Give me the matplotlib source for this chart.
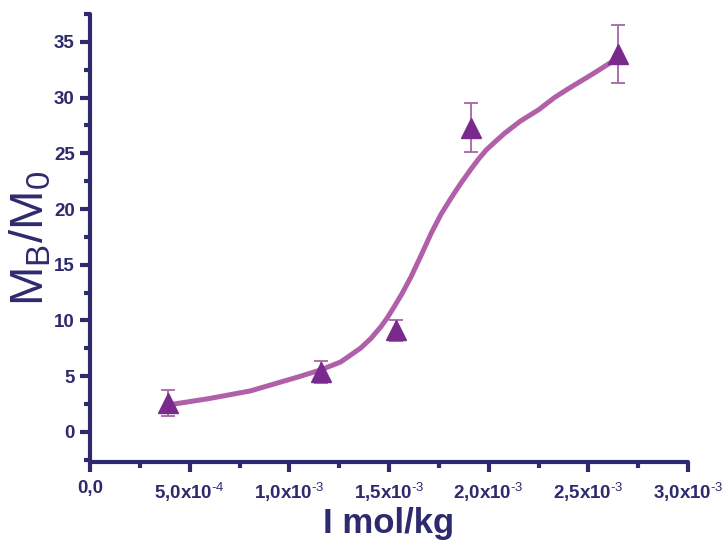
import matplotlib
matplotlib.use('Agg')
import matplotlib.pyplot as plt
from matplotlib.ticker import MultipleLocator

plt.rcParams['font.family'] = ['Liberation Sans', 'DejaVu Sans']
plt.rcParams['mathtext.fontset'] = 'custom'
plt.rcParams['mathtext.rm'] = 'Liberation Sans'
plt.rcParams['mathtext.bf'] = 'Liberation Sans:bold'

# measured points
conc = [3.9e-4, 1.16e-3, 1.535e-3, 1.91e-3, 2.65e-3]
ratio = [2.6, 5.4, 9.1, 27.3, 33.9]
err = [1.2, 1.0, 0.9, 2.2, 2.6]

# fitted curve
fit_x = [0.393e-3, 0.60e-3, 0.805e-3, 1.057e-3, 1.158e-3, 1.258e-3, 1.30e-3, 1.359e-3,
         1.41e-3, 1.459e-3, 1.49e-3, 1.525e-3, 1.565e-3, 1.610e-3, 1.66e-3, 1.711e-3,
         1.76e-3, 1.812e-3, 1.86e-3, 1.912e-3, 1.95e-3, 1.988e-3, 2.03e-3, 2.08e-3,
         2.16e-3, 2.25e-3, 2.33e-3, 2.40e-3, 2.52e-3, 2.617e-3, 2.652e-3]
fit_y = [2.42, 3.0, 3.68, 5.0, 5.57, 6.28, 6.8, 7.54,
         8.4, 9.43, 10.2, 11.2, 12.4, 13.9, 15.8, 17.8,
         19.5, 21.0, 22.3, 23.6, 24.5, 25.3, 26.0, 26.8,
         27.9, 28.9, 30.0, 30.8, 32.1, 33.2, 33.6]

xticks = [0, 5e-4, 1e-3, 1.5e-3, 2e-3, 2.5e-3, 3e-3]
xlabels = ['0,0', r'5,0x10$^{\text{-4}}$', r'1,0x10$^{\text{-3}}$', r'1,5x10$^{\text{-3}}$',
           r'2,0x10$^{\text{-3}}$', r'2,5x10$^{\text{-3}}$', r'3,0x10$^{\text{-3}}$']

navy = '#2d2a6e'
dot = '#7a2a8c'
line = '#b05fa8'

fig = plt.figure(figsize=(7.22, 5.42), dpi=100)
ax = fig.add_axes([90/722, 80/542, 598/722, 448/542])

ax.plot(fit_x, fit_y, color=line, lw=3.6, zorder=2, solid_capstyle='round',
        solid_joinstyle='round')
ax.errorbar(conc, ratio, yerr=err, fmt='none', ecolor='#a865a6', elinewidth=1.3,
            capsize=5, capthick=1.3, zorder=3)
ax.plot(conc, ratio, '^', color=dot, ms=15, mec=dot, zorder=4)

ax.set_xlim(0, 3.0e-3)
ax.set_ylim(-2.7, 37.5)
ax.spines['top'].set_visible(False)
ax.spines['right'].set_visible(False)
for s in ['left', 'bottom']:
    ax.spines[s].set_color(navy)
    ax.spines[s].set_linewidth(3)
    ax.spines[s].set_capstyle('round')

ax.set_yticks(range(0, 40, 5))
ax.yaxis.set_minor_locator(MultipleLocator(2.5))
ax.set_xticks(xticks)
ax.set_xticklabels(xlabels)
ax.xaxis.set_minor_locator(MultipleLocator(2.5e-4))
ax.tick_params(which='major', direction='out', length=7, width=3, color=navy,
               labelcolor=navy, labelsize=13.5)
ax.tick_params(which='minor', direction='out', length=4, width=3, color=navy)
for lab in ax.get_xticklabels() + ax.get_yticklabels():
    lab.set_fontweight('bold')
ax.tick_params(axis='x', pad=6)
ax.tick_params(axis='y', pad=4)

ax.set_xlabel('I mol/kg', fontsize=25, fontweight='bold', color=navy, labelpad=2)
ax.set_ylabel(r'$\mathregular{M_B/M_0}$', fontsize=34, color=navy, labelpad=0)

fig.savefig('out.png', dpi=100)
